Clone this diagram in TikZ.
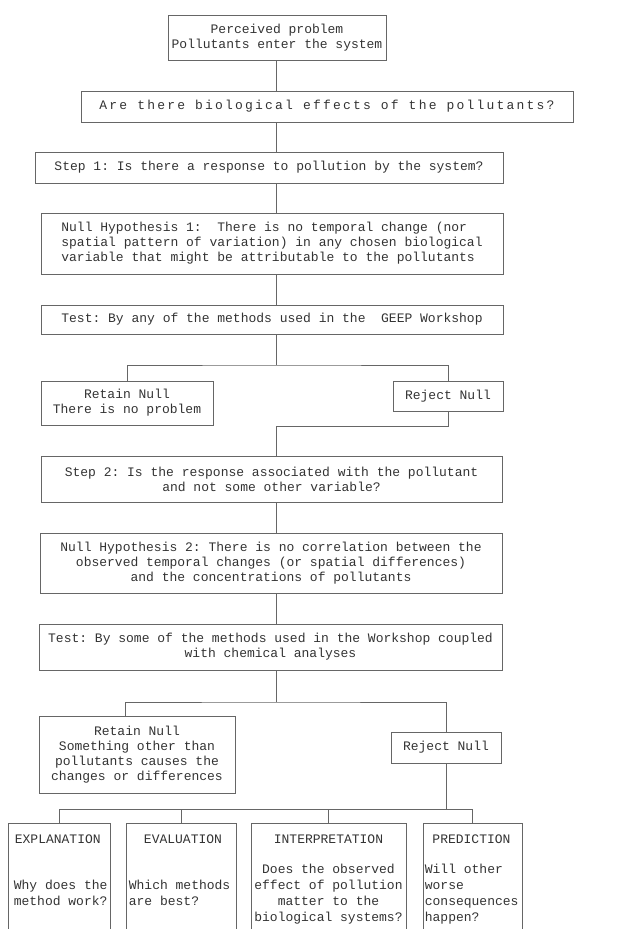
\documentclass[tikz,border=0pt]{standalone}
\usepackage{fontspec}
\setmonofont{Liberation Mono}
\newfontfamily\widett[LetterSpace=17]{Liberation Mono}
\usepackage{tikz}
\tikzset{>=latex}

\begin{document}
\begin{tikzpicture}[x=1pt, y=-1pt,
box/.style={draw=black!60, line width=0.7pt, text=black!80, inner sep=0pt, align=center,
  font=\ttfamily\fontsize{13}{15}\selectfont},
lowbox/.style={draw=black!60, line width=0.7pt, anchor=north, minimum height=125pt},
words/.style={text=black!80, inner sep=0pt, font=\ttfamily\fontsize{13}{16}\selectfont},
link/.style={draw=black!60, line width=0.7pt}
]
\useasboundingbox (0,0) rectangle (619,929);
\coordinate (spine) at (276,0);

\node[box, minimum width=218pt, minimum height=45pt] (perceived) at (277,37.5)
  {Perceived problem\\Pollutants enter the system};
\node[box, minimum width=492pt, minimum height=31pt, font=\widett\fontsize{13}{15}\selectfont] (effects) at (327,106.5)
  {Are there biological effects of the pollutants?};
\node[box, minimum width=468pt, minimum height=31pt] (step1) at (269,167.5)
  {Step 1: Is there a response to pollution by the system?};
\node[box, minimum width=462pt, minimum height=61pt, align=left] (nullhyp1) at (272,243.5)
  {Null Hypothesis 1:\ \ There is no temporal change (nor\\
   spatial pattern of variation) in any chosen biological\\
   variable that might be attributable to the pollutants};
\node[box, minimum width=462pt, minimum height=29pt] (test1) at (272,319.5)
  {Test: By any of the methods used in the\ \ GEEP Workshop};
\node[box, minimum width=172pt, minimum height=44pt] (retain1) at (127,403)
  {Retain Null\\There is no problem};
\node[box, minimum width=110pt, minimum height=30pt] (reject1) at (448,396)
  {Reject Null};
\node[box, minimum width=461pt, minimum height=46pt] (step2) at (271.5,479)
  {Step 2: Is the response associated with the pollutant\\and not some other variable?};
\node[box, minimum width=462pt, minimum height=60pt] (nullhyp2) at (271,563)
  {Null Hypothesis 2: There is no correlation between the\\
   observed temporal changes (or spatial differences)\\
   and the concentrations of pollutants};
\node[box, minimum width=463pt, minimum height=46pt] (test2) at (270.5,647)
  {Test: By some of the methods used in the Workshop coupled\\with chemical analyses};
\node[box, minimum width=196pt, minimum height=77pt] (retain2) at (137,754.5)
  {Retain Null\\Something other than\\pollutants causes the\\changes or differences};
\node[box, minimum width=110pt, minimum height=31pt] (reject2) at (446,747.5)
  {Reject Null};

\node[lowbox, minimum width=102pt] (explanation) at (59,823) {};
\node[lowbox, minimum width=110pt] (evaluation) at (181,823) {};
\node[lowbox, minimum width=155pt] (interpretation) at (328.5,823) {};
\node[lowbox, minimum width=99pt] (prediction) at (472.5,823) {};

\node[words, anchor=west] (explanation title) at ([shift={(7,16)}]explanation.north west) {EXPLANATION};
\node[words] (evaluation title) at ([shift={(2,16)}]evaluation.north) {EVALUATION};
\node[words] (interpretation title) at ([shift={(0,16)}]interpretation.north) {INTERPRETATION};
\node[words] (prediction title) at ([shift={(-1,16)}]prediction.north) {PREDICTION};

\node[words, anchor=north west, align=left] (explanation body) at ([shift={(6,57)}]explanation.north west)
  {Why does the\\method work?};
\node[words, anchor=north west, align=left] (evaluation body) at ([shift={(3,57)}]evaluation.north west)
  {Which methods\\are best?};
\node[words, anchor=north, align=center] (interpretation body) at ([shift={(0,41)}]interpretation.north)
  {Does the observed\\effect of pollution\\matter to the\\biological systems?};
\node[words, anchor=north west, align=left] (prediction body) at ([shift={(2,41)}]prediction.north west)
  {Will other\\worse\\consequences\\happen?};

\foreach \a/\b in {perceived/effects, effects/step1, step1/nullhyp1, nullhyp1/test1, step2/nullhyp2, nullhyp2/test2}
  \draw[link] (spine |- \a.south) -- (spine |- \b.north);

\coordinate (fork1) at (276,365);
\draw[link] (spine |- test1.south) -- (fork1);
\draw[link] (retain1.north) |- (fork1) -| (reject1.north);
\draw[link] (reject1.south) -- ++(0,15) -| (spine |- step2.north);

\coordinate (fork2) at (276,702);
\draw[link] (spine |- test2.south) -- (fork2);
\draw[link] ([xshift=-12pt]retain2.north) |- (fork2) -| (reject2.north);

\coordinate (fork3) at (446,809);
\draw[link] (reject2.south) -- (fork3);
\foreach \b in {explanation, evaluation, interpretation, prediction}
  \draw[link] (\b.north) |- (fork3);
\end{tikzpicture}
\end{document}
